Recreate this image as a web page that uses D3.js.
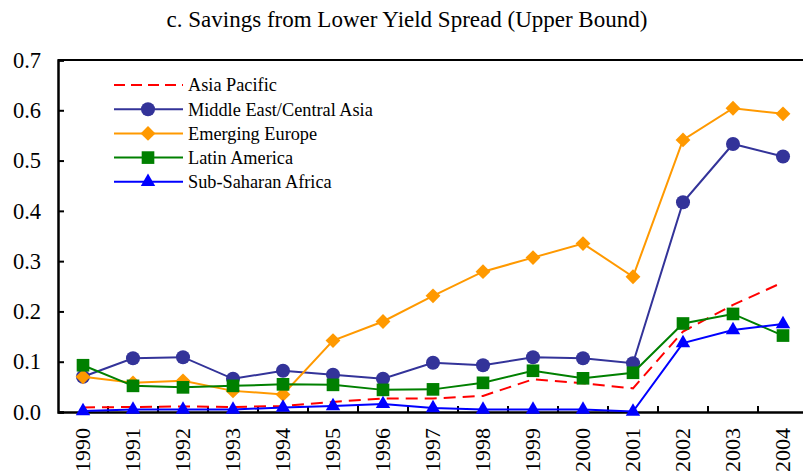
<!DOCTYPE html>
<html>
<head>
<meta charset="utf-8">
<script src="https://cdn.jsdelivr.net/npm/d3@7"></script>
<style>
    body { margin: 0; background: #fff; }
</style>
</head>
<body>
<div id="chart"></div>
<script>
const years = ["1990", "1991", "1992", "1993", "1994", "1995", "1996", "1997",
    "1998", "1999", "2000", "2001", "2002", "2003", "2004"];

const asiaPacific = [0.009, 0.010, 0.011, 0.010, 0.012, 0.020, 0.027, 0.027,
    0.032, 0.065, 0.057, 0.047, 0.160, 0.213, 0.258];
const middleEast = [0.070, 0.107, 0.109, 0.066, 0.082, 0.074, 0.066, 0.098,
    0.093, 0.109, 0.107, 0.097, 0.417, 0.533, 0.508];
const emergingEurope = [0.070, 0.058, 0.062, 0.042, 0.035, 0.142, 0.180, 0.231,
    0.279, 0.307, 0.335, 0.269, 0.541, 0.604, 0.593];
const latinAmerica = [0.093, 0.052, 0.049, 0.052, 0.055, 0.054, 0.044, 0.045,
    0.058, 0.082, 0.067, 0.078, 0.176, 0.195, 0.152];
const subSaharan = [0.002, 0.005, 0.005, 0.005, 0.009, 0.012, 0.016, 0.008,
    0.005, 0.005, 0.005, 0.001, 0.137, 0.163, 0.175];

const yTicks = [0, 0.1, 0.2, 0.3, 0.4, 0.5, 0.6, 0.7];

const series = [
    { name: "Asia Pacific", values: asiaPacific, color: "#FF0000", dash: "12,7", symbol: null },
    { name: "Middle East/Central Asia", values: middleEast, color: "#333399", symbol: d3.symbolCircle, size: 155, rot: 0 },
    { name: "Emerging Europe", values: emergingEurope, color: "#FF9900", symbol: d3.symbolSquare, size: 110, rot: 45 },
    { name: "Latin America", values: latinAmerica, color: "#008000", symbol: d3.symbolSquare, size: 160, rot: 0 },
    { name: "Sub-Saharan Africa", values: subSaharan, color: "#0000FF", symbol: d3.symbolTriangle, size: 90, rot: 0 }
];

const FONT = "Liberation Serif";
const width = 803, height = 475;
const margin = { top: 60, right: -5, bottom: 63, left: 58 };

const svg = d3.select("#chart").append("svg")
    .attr("width", width)
    .attr("height", height);

const x = d3.scaleBand()
    .domain(years)
    .range([margin.left, width - margin.right]);

const y = d3.scaleLinear()
    .domain([0, 0.7])
    .range([height - margin.bottom, margin.top]);

// title
svg.append("text")
    .attr("x", 407)
    .attr("y", 27)
    .attr("text-anchor", "middle")
    .style("font-family", FONT)
    .style("font-size", "23px")
    .text("c. Savings from Lower Yield Spread (Upper Bound)");

// top frame line
svg.append("line")
    .attr("x1", margin.left).attr("x2", width)
    .attr("y1", margin.top).attr("y2", margin.top)
    .attr("stroke", "#000").attr("stroke-width", 2);

// y axis
const yAxis = svg.append("g")
    .attr("transform", `translate(${margin.left},0)`)
    .call(d3.axisRight(y).tickValues(yTicks).tickSize(6).tickFormat(d3.format(".1f")));
yAxis.select(".domain").attr("stroke-width", 2.5);
yAxis.selectAll(".tick line").attr("stroke-width", 2);
yAxis.selectAll(".tick text")
    .attr("x", -17)
    .attr("text-anchor", "end")
    .style("font-family", FONT)
    .style("font-size", "22.5px");

// x axis
const xAxis = svg.append("g")
    .attr("transform", `translate(0,${y(0)})`)
    .call(d3.axisBottom(x).tickSize(0).tickSizeOuter(0));
xAxis.select(".domain").attr("stroke-width", 2.5);
xAxis.selectAll(".tick text")
    .style("font-family", FONT)
    .style("font-size", "22px")
    .attr("text-anchor", "end")
    .attr("transform", "rotate(-90)")
    .attr("x", -16)
    .attr("y", 0)
    .attr("dy", "0.33em");

// category boundary ticks (pointing inward)
svg.append("g")
    .selectAll(null)
    .data(years.slice(1))
    .join("line")
    .attr("x1", d => x(d)).attr("x2", d => x(d))
    .attr("y1", y(0)).attr("y2", y(0) - 6)
    .attr("stroke", "#000").attr("stroke-width", 2);

const line = d3.line()
    .x((d, i) => x(years[i]) + x.bandwidth() / 2)
    .y(d => y(d));

const plot = svg.append("g");
for (let s of series) {
    const g = plot.append("g");
    g.append("path")
        .attr("d", line(s.values))
        .attr("fill", "none")
        .attr("stroke", s.color)
        .attr("stroke-width", 2)
        .attr("stroke-dasharray", s.dash || null);
    if (s.symbol) {
        g.selectAll(null)
            .data(s.values)
            .join("path")
            .attr("d", d3.symbol(s.symbol, s.size))
            .attr("transform", (d, i) => `translate(${x(years[i]) + x.bandwidth() / 2},${y(d)}) rotate(${s.rot})`)
            .attr("fill", s.color);
    }
}

// legend
const legend = svg.append("g");
series.forEach((s, i) => {
    const ly = 85 + i * 24.2;
    legend.append("line")
        .attr("x1", 114).attr("x2", 183)
        .attr("y1", ly).attr("y2", ly)
        .attr("stroke", s.color).attr("stroke-width", 2)
        .attr("stroke-dasharray", s.dash ? "11,6" : null);
    if (s.symbol) {
        legend.append("path")
            .attr("d", d3.symbol(s.symbol, s.size))
            .attr("transform", `translate(148,${ly}) rotate(${s.rot})`)
            .attr("fill", s.color);
    }
    legend.append("text")
        .attr("x", 188)
        .attr("y", ly)
        .attr("dy", "0.35em")
        .style("font-family", FONT)
        .style("font-size", "18.3px")
        .text(s.name);
});
</script>
</body>
</html>
